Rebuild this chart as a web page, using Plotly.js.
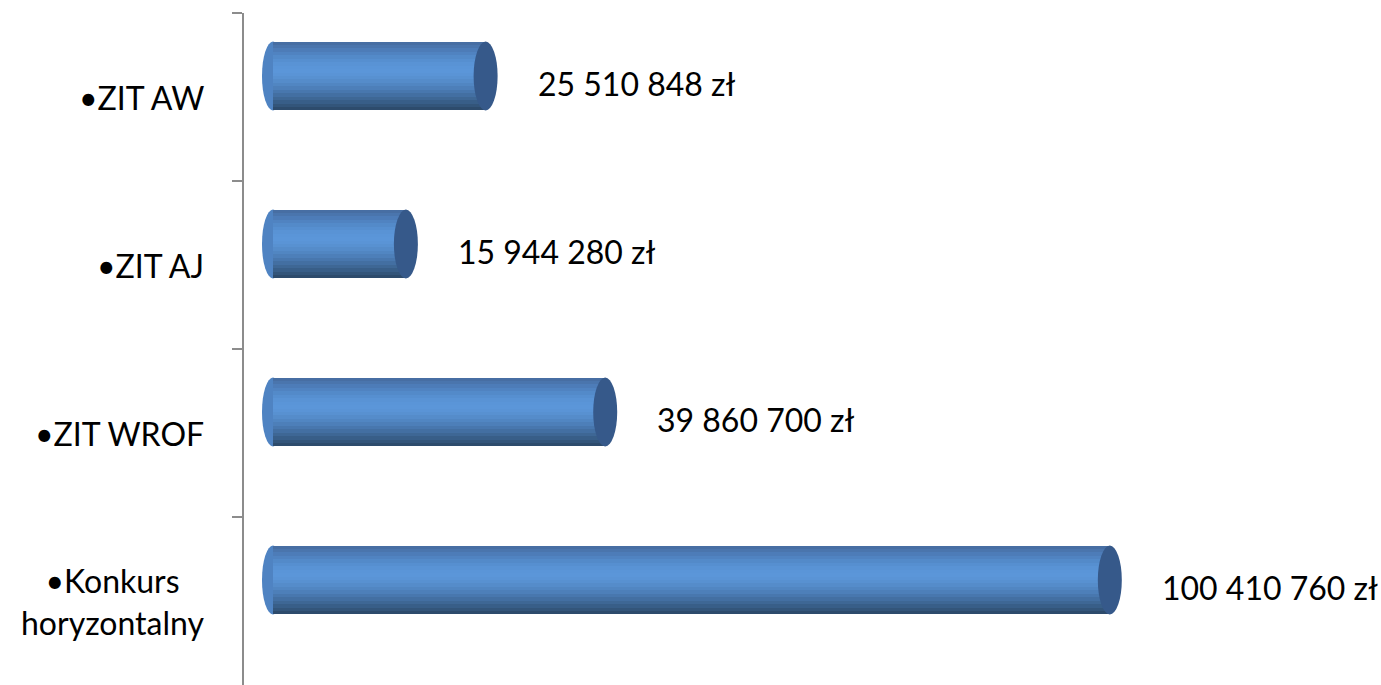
<!DOCTYPE html>
<html>
<head>
<meta charset="utf-8">
<script src="https://cdn.plot.ly/plotly-3.0.1.min.js"></script>
<style>
html,body{margin:0;padding:0;background:#fff;overflow:hidden;}
#chart{width:1381px;height:685px;}
</style>
</head>
<body>
<div id="chart"></div>
<script>
// ---- data ----
var categories = ["ZIT AW", "ZIT AJ", "ZIT WROF", "Konkurs horyzontalny"];
var categoryLabels = ["•ZIT AW", "•ZIT AJ", "•ZIT WROF", "•Konkurs<br>horyzontalny"];
var values = [25510848, 15944280, 39860700, 100410760];
var valueLabels = ["25 510 848 zł", "15 944 280 zł", "39 860 700 zł", "100 410 760 zł"];

// ---- style ----
var FONT = "Lato, 'Open Sans', sans-serif";
var barWidth = 0.41;      // thickness in category units
var barShift = -0.125;    // 3D-like upward shift of the cylinder
var bandColors = ["#476ea3","#4a75ad","#4d7cb8","#5083c1","#538ac9","#568fd0","#5993d5","#5a95d8",
                  "#5b96d9","#5a94d6","#5891d1","#558cca","#5186c2","#4d7fb9","#4877ae","#436fa2",
                  "#3e6795","#385e88","#33557a","#2d4b6c"];
var capColor = "#36598a";
var leftCapColor = "#4f83c2";

var traces = [];
var N = bandColors.length;
for (var k = 0; k < N; k++) {
  var t0 = k / N;
  traces.push({
    type: "bar",
    orientation: "h",
    y: categories,
    x: values,
    base: 0,
    width: (1 - t0) * barWidth,
    offset: barShift - barWidth / 2 + t0 * barWidth,
    marker: {color: bandColors[k], line: {width: 0}},
    hoverinfo: "skip",
    showlegend: false
  });
}

var shapes = [];
var annotations = [];
for (var i = 0; i < categories.length; i++) {
  var yc = i + barShift;
  // right end cap (ellipse)
  shapes.push({
    type: "circle", layer: "above",
    xref: "x", xsizemode: "pixel", xanchor: values[i], x0: -12, x1: 12,
    yref: "y", y0: yc - barWidth / 2, y1: yc + barWidth / 2,
    fillcolor: capColor, line: {width: 0}
  });
  // left rounded end
  shapes.push({
    type: "circle", layer: "below",
    xref: "x", xsizemode: "pixel", xanchor: 0, x0: -11, x1: 11,
    yref: "y", y0: yc - barWidth / 2, y1: yc + barWidth / 2,
    fillcolor: leftCapColor, line: {width: 0}
  });
  // value label
  annotations.push({
    x: values[i], y: categories[i], xref: "x", yref: "y",
    text: valueLabels[i], showarrow: false,
    xanchor: "left", yanchor: "middle", xshift: 50, yshift: 14,
    font: {family: FONT, size: 32, color: "#000"}
  });
  // category label
  annotations.push({
    x: 0, y: categories[i], xref: "paper", yref: "y",
    text: categoryLabels[i], showarrow: false,
    xanchor: "right", yanchor: "middle", xshift: -38, align: "center",
    font: {family: FONT, size: 32, color: "#000"}
  });
}

var layout = {
  width: 1381, height: 685,
  margin: {l: 244, r: 0, t: 13, b: 0, pad: 0},
  paper_bgcolor: "#fff", plot_bgcolor: "#fff",
  barmode: "overlay",
  bargap: 0,
  xaxis: {range: [-3.48e6, 132.95e6], visible: false, showgrid: false, zeroline: false, fixedrange: true},
  yaxis: {
    type: "category", categoryorder: "array", categoryarray: categories,
    range: [3.5, -0.5],
    showline: true, linecolor: "#8c8c8c", linewidth: 2,
    ticks: "outside", tickson: "boundaries", ticklen: 10, tickcolor: "#8c8c8c", tickwidth: 2,
    showticklabels: false, showgrid: false, zeroline: false, fixedrange: true
  },
  shapes: shapes,
  annotations: annotations,
  showlegend: false
};

Plotly.newPlot("chart", traces, layout, {displayModeBar: false, staticPlot: true});
</script>
</body>
</html>
